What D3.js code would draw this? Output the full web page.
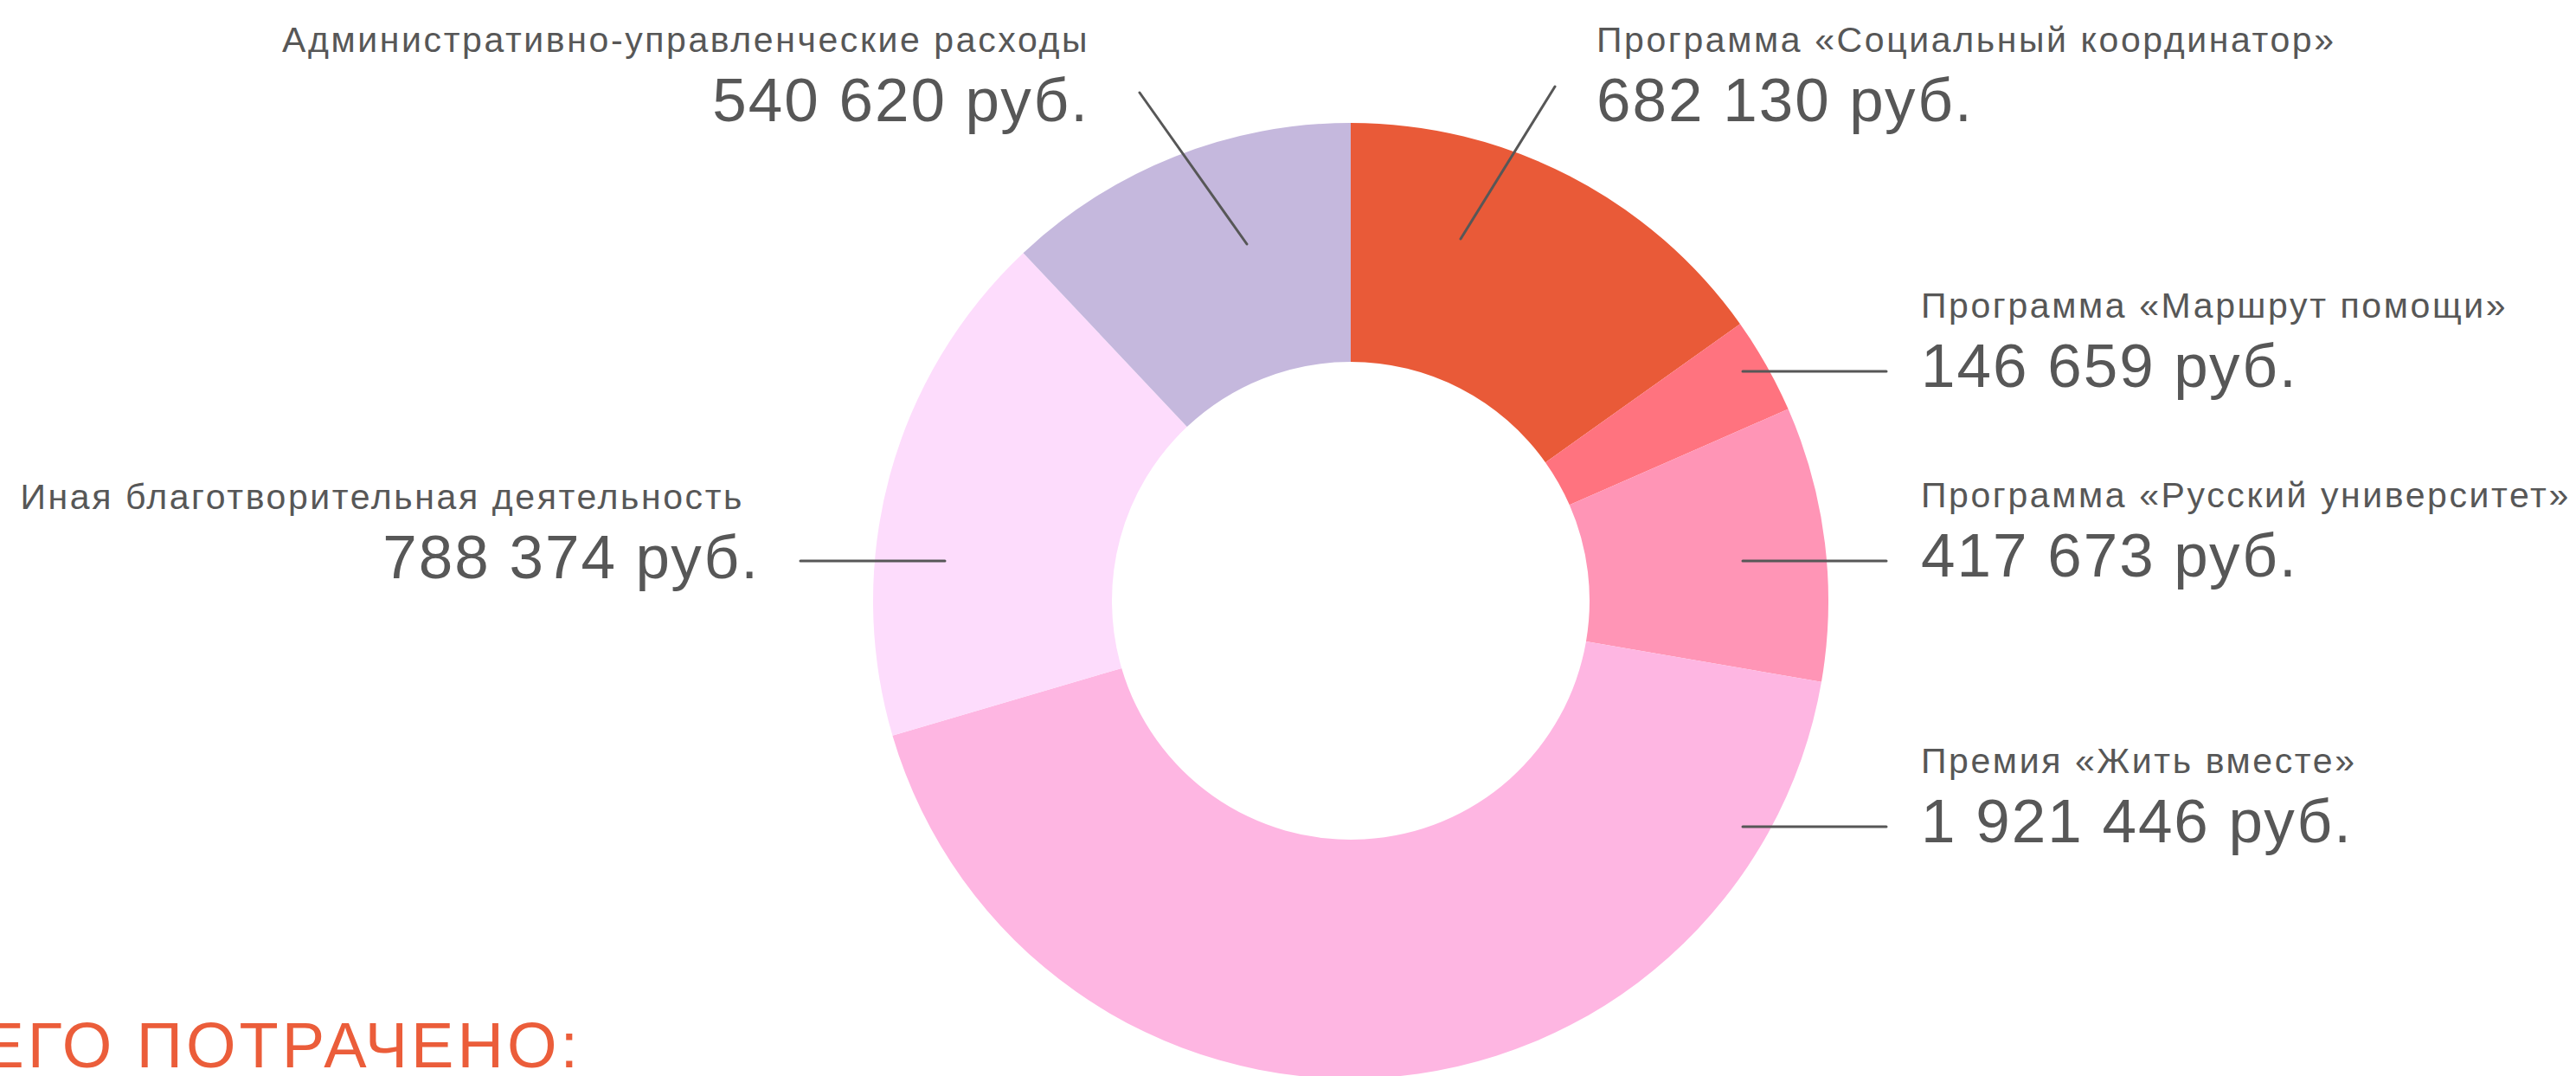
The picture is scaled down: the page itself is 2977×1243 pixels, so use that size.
<!DOCTYPE html>
<html>
<head>
<meta charset="utf-8">
<script src="https://cdn.jsdelivr.net/npm/d3@7"></script>
<style>
  html, body { margin: 0; padding: 0; background: #fff; overflow: hidden; }
  text { font-family: "Liberation Sans", Arial, Helvetica, sans-serif; }
</style>
</head>
<body>
<script>
    //Chart values
    var categories = [
        'Программа «Социальный координатор»',
        'Программа «Маршрут помощи»',
        'Программа «Русский университет»',
        'Премия «Жить вместе»',
        'Иная благотворительная деятельность',
        'Административно-управленческие расходы'
    ];
    var amounts = [682130, 146659, 417673, 1921446, 788374, 540620];
    var colors = ['#e95a38', '#ff737f', '#ff95b6', '#feb6e2', '#fddcfc', '#c5b8dd'];
    var totalTitle = 'ВСЕГО ПОТРАЧЕНО:';

    //Where each label sits, and the leader line to its slice
    var labelLayout = [
        { x: 1845, y: 60, anchor: 'start', valueDx: 0, line: [[1797, 100], [1688, 276]] },
        { x: 2220, y: 367, anchor: 'start', valueDx: 0, line: [[2180, 429], [2014, 429]] },
        { x: 2220, y: 586, anchor: 'start', valueDx: 0, line: [[2180, 648], [2014, 648]] },
        { x: 2220, y: 893, anchor: 'start', valueDx: 0, line: [[2180, 955], [2014, 955]] },
        { x: 860, y: 588, anchor: 'end', valueDx: 18, line: [[925, 648], [1092, 648]] },
        { x: 1259, y: 60, anchor: 'end', valueDx: 0, line: [[1317, 107], [1441, 282]] }
    ];

    var width = 2977;
    var height = 1243;
    var center = { x: 1561, y: 694 };
    var outerRadius = 552;
    var innerRadius = 276;
    var textColor = '#575757';
    var format = function(v) {
        return d3.format(',d')(v).replace(/,/g, ' ') + ' руб.';
    };

    var data = categories.map(function(c, i) {
        return { name: c, value: amounts[i], color: colors[i], layout: labelLayout[i] };
    });

    var svg = d3.select('body').append('svg')
        .attr('width', width)
        .attr('height', height);

    var pie = d3.pie()
        .sort(null)
        .value(function(d) { return d.value; });

    var arc = d3.arc()
        .innerRadius(innerRadius)
        .outerRadius(outerRadius);

    var donut = svg.append('g')
        .attr('transform', 'translate(' + center.x + ',' + center.y + ')');

    donut.selectAll('path')
        .data(pie(data))
        .enter().append('path')
        .attr('d', arc)
        .attr('fill', function(d) { return d.data.color; });

    //Leader lines
    svg.selectAll('.leader')
        .data(data)
        .enter().append('line')
        .attr('class', 'leader')
        .attr('x1', function(d) { return d.layout.line[0][0]; })
        .attr('y1', function(d) { return d.layout.line[0][1]; })
        .attr('x2', function(d) { return d.layout.line[1][0]; })
        .attr('y2', function(d) { return d.layout.line[1][1]; })
        .attr('stroke', textColor)
        .attr('stroke-width', 3)
        .attr('stroke-linecap', 'round');

    //Labels: name and amount
    var label = svg.selectAll('.label')
        .data(data)
        .enter().append('g')
        .attr('class', 'label')
        .attr('transform', function(d) {
            return 'translate(' + d.layout.x + ',' + d.layout.y + ')';
        });

    label.append('text')
        .attr('text-anchor', function(d) { return d.layout.anchor; })
        .attr('fill', textColor)
        .attr('font-size', 41)
        .attr('letter-spacing', 2.6)
        .text(function(d) { return d.name; });

    label.append('text')
        .attr('text-anchor', function(d) { return d.layout.anchor; })
        .attr('x', function(d) { return d.layout.valueDx; })
        .attr('y', 80)
        .attr('fill', textColor)
        .attr('font-size', 71)
        .attr('letter-spacing', 2)
        .text(function(d) { return format(d.value); });

    svg.append('text')
        .attr('x', 672)
        .attr('y', 1233)
        .attr('text-anchor', 'end')
        .attr('fill', '#eb5d3a')
        .attr('font-size', 74)
        .attr('letter-spacing', 4)
        .text(totalTitle);
</script>
</body>
</html>
